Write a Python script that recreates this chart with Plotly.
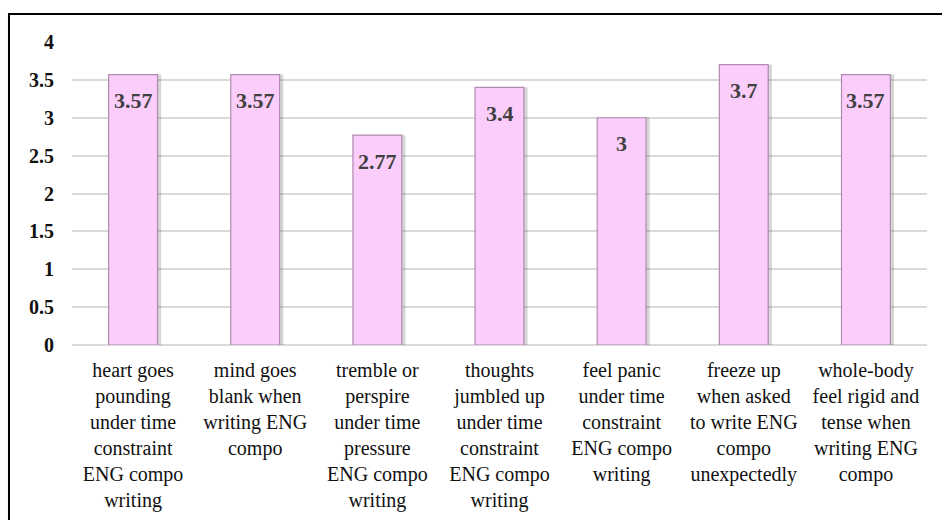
import plotly.graph_objects as go

# Mean scores for each anxiety symptom item
categories = [
    "heart goes<br>pounding<br>under time<br>constraint<br>ENG compo<br>writing",
    "mind goes<br>blank when<br>writing ENG<br>compo",
    "tremble or<br>perspire<br>under time<br>pressure<br>ENG compo<br>writing",
    "thoughts<br>jumbled up<br>under time<br>constraint<br>ENG compo<br>writing",
    "feel panic<br>under time<br>constraint<br>ENG compo<br>writing",
    "freeze up<br>when asked<br>to write ENG<br>compo<br>unexpectedly",
    "whole-body<br>feel rigid and<br>tense when<br>writing ENG<br>compo",
]
values = [3.57, 3.57, 2.77, 3.4, 3.0, 3.7, 3.57]
value_labels = ["3.57", "3.57", "2.77", "3.4", "3", "3.7", "3.57"]
y_ticks = [0, 0.5, 1, 1.5, 2, 2.5, 3, 3.5, 4]
y_tick_text = ["0", "0.5", "1", "1.5", "2", "2.5", "3", "3.5", "4"]

serif = "Liberation Serif"

fig = go.Figure()

# soft drop shadow behind each column
fig.add_trace(go.Bar(
    x=categories, y=values, width=0.42, offset=-0.19,
    marker=dict(color="rgba(90,90,90,0.25)", line=dict(width=0)),
    hoverinfo="skip", showlegend=False,
))

# main pink columns
fig.add_trace(go.Bar(
    x=categories, y=values, width=0.4, offset=-0.2,
    marker=dict(color="#FBCDFB", line=dict(color="#B08AB0", width=1.2)),
    showlegend=False,
))

# value labels just below the top of each column
for cat, v, lab in zip(categories, values, value_labels):
    fig.add_annotation(
        x=cat, y=v, text="<b>" + lab + "</b>", showarrow=False,
        yanchor="middle", yshift=-26,
        font=dict(family=serif, size=22, color="#404040"),
    )

# outer chart border
fig.add_shape(
    type="rect", xref="paper", yref="paper",
    x0=-0.0737, x1=1.2, y0=-0.8, y1=1.0924,
    line=dict(color="black", width=2), fillcolor="rgba(0,0,0,0)",
    layer="above",
)

fig.update_layout(
    width=942, height=520,
    margin=dict(l=72, r=15, t=42, b=175, autoexpand=False),
    paper_bgcolor="white", plot_bgcolor="white",
    barmode="overlay",
    font=dict(family=serif, color="black"),
    xaxis=dict(
        showgrid=False, showline=False, ticks="", automargin=False,
        tickfont=dict(family=serif, size=20, color="#111111"),
        tickangle=0, ticklabelstandoff=11,
    ),
    yaxis=dict(
        range=[0, 4], tickvals=y_ticks, automargin=False,
        ticktext=["<b>" + t + "</b>" for t in y_tick_text],
        showgrid=True, gridcolor="#D9D9D9", gridwidth=2,
        zeroline=True, zerolinecolor="#D9D9D9", zerolinewidth=2,
        showline=False, ticks="", ticklabelstandoff=17,
        tickfont=dict(family=serif, size=20, color="#111111"),
    ),
)

fig.write_html("out.html")
